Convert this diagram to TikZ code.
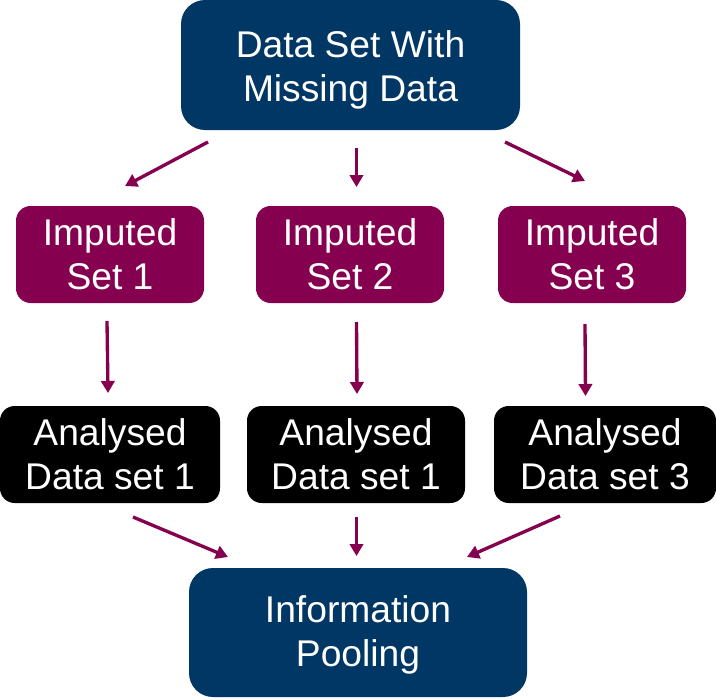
\documentclass[tikz,border=0pt]{standalone}
\usepackage{fontspec}
\setmainfont{Liberation Sans}
\usetikzlibrary{arrows.meta}
\definecolor{navy}{HTML}{003764}
\definecolor{plum}{HTML}{85004F}
\begin{document}
\begin{tikzpicture}[x=0.75pt,y=-0.75pt,
 box/.style={rounded corners=11pt, text=white, align=center, inner sep=0pt, font=\fontsize{27.9}{33}\selectfont},
 bigbox/.style={box, fill=navy, rounded corners=18pt},
 impbox/.style={box, fill=plum, minimum width=141pt, minimum height=72.75pt},
 anabox/.style={box, fill=black, minimum height=72.75pt},
 arr/.style={draw=plum, line width=2.5pt, -{Triangle[length=9pt,width=10pt]}}]
\useasboundingbox (0,0) rectangle (716,699);
\node[bigbox, minimum width=254.25pt, minimum height=97.5pt] (top) at (350.5,65) {\rule{0pt}{28pt}Data Set With\\Missing Data};
\node[impbox] (imp1) at (110,254.5) {Imputed\\Set 1};
\node[impbox] (imp2) at (350,254.5) {Imputed\\Set 2};
\node[impbox] (imp3) at (592,254.5) {Imputed\\Set 3};
\node[anabox, minimum width=165pt] (ana1) at (110,454.5) {Analysed\\Data set 1};
\node[anabox, minimum width=163.5pt] (ana2) at (356,454.5) {Analysed\\Data set 1};
\node[anabox, minimum width=166.5pt] (ana3) at (605,454.5) {Analysed\\Data set 3};
\node[bigbox, minimum width=253.5pt, minimum height=96.75pt] (pool) at (358,632.5) {\rule{0pt}{23.5pt}Information\\Pooling};
\coordinate (a1s) at (208,142); \coordinate (a1e) at (125,186);
\coordinate (a2s) at (356.5,148); \coordinate (a2e) at (356.5,187);
\coordinate (a3s) at (505,142); \coordinate (a3e) at (585,181);
\coordinate (b1s) at (107,321); \coordinate (b1e) at (108,393);
\coordinate (b2s) at (356.5,322); \coordinate (b2e) at (357,394);
\coordinate (b3s) at (585,324); \coordinate (b3e) at (585.5,396);
\coordinate (c1s) at (133,517); \coordinate (c1e) at (228,557);
\coordinate (c2s) at (356.5,517); \coordinate (c2e) at (356.5,556);
\coordinate (c3s) at (560,516); \coordinate (c3e) at (467,557);
\foreach \n in {a1,a2,a3,b1,b2,b3,c1,c2,c3} \draw[arr] (\n s) -- (\n e);
\end{tikzpicture}
\end{document}
